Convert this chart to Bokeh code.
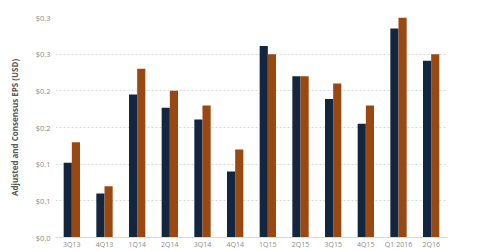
from bokeh.plotting import figure
from bokeh.models import FixedTicker, ColumnDataSource
from bokeh.transform import dodge
from bokeh.embed import file_html
from bokeh.resources import INLINE

quarters = ["3Q13", "4Q13", "1Q14", "2Q14", "3Q14", "4Q14", "1Q15", "2Q15",
            "3Q15", "4Q15", "Q1 2016", "2Q16"]
adjusted_eps = [0.102, 0.060, 0.195, 0.177, 0.161, 0.090, 0.261, 0.220,
                0.189, 0.155, 0.285, 0.241]
consensus_eps = [0.130, 0.070, 0.230, 0.200, 0.180, 0.120, 0.250, 0.220,
                 0.210, 0.180, 0.300, 0.250]
tick_values = [0.0, 0.05, 0.10, 0.15, 0.20, 0.25, 0.30]
tick_labels = ["$0.0", "$0.1", "$0.1", "$0.2", "$0.2", "$0.3", "$0.3"]

source = ColumnDataSource(dict(q=quarters, adj=adjusted_eps, con=consensus_eps))

p = figure(width=480, height=251, x_range=quarters, y_range=(0, 0.30),
           output_backend="svg", toolbar_location=None,
           min_border_left=55, min_border_right=33, min_border_top=17,
           min_border_bottom=6)

p.vbar(x=dodge("q", -0.125, range=p.x_range), top="adj", width=0.25,
       source=source, color="#13263f", line_color=None)
p.vbar(x=dodge("q", 0.125, range=p.x_range), top="con", width=0.25,
       source=source, color="#9a4812", line_color=None)

p.outline_line_color = None
p.xgrid.grid_line_color = None
p.ygrid.grid_line_color = "#d9d9d9"
p.ygrid.grid_line_dash = "2 2"

p.yaxis.ticker = FixedTicker(ticks=tick_values)
p.yaxis.major_label_overrides = {v: l for v, l in zip(tick_values, tick_labels)}
p.yaxis.axis_line_color = None
p.yaxis.major_tick_line_color = None
p.yaxis.minor_tick_line_color = None
p.yaxis.major_tick_out = 0
p.yaxis.major_tick_in = 0
p.yaxis.minor_tick_out = 0
p.yaxis.major_label_standoff = 5
p.yaxis.major_label_text_font_size = "7.5px"
p.yaxis.major_label_text_color = "#8a8a8a"
p.yaxis.major_label_text_font = "Open Sans"
p.yaxis.axis_label = "Adjusted and Consensus EPS (USD)"
p.yaxis.axis_label_text_font = "Open Sans"
p.yaxis.axis_label_text_font_style = "bold"
p.yaxis.axis_label_text_font_size = "8px"
p.yaxis.axis_label_text_color = "#595959"
p.yaxis.axis_label_standoff = 13

p.xaxis.axis_line_color = "#d9d9d9"
p.xaxis.major_tick_line_color = None
p.xaxis.minor_tick_line_color = None
p.xaxis.major_tick_out = 0
p.xaxis.major_tick_in = 0
p.xaxis.minor_tick_out = 0
p.xaxis.major_label_text_font_size = "7px"
p.xaxis.major_label_text_color = "#8a8a8a"
p.xaxis.major_label_text_font = "Open Sans"
p.xaxis.major_label_standoff = 2

open("out.html", "w").write(file_html(p, INLINE))
